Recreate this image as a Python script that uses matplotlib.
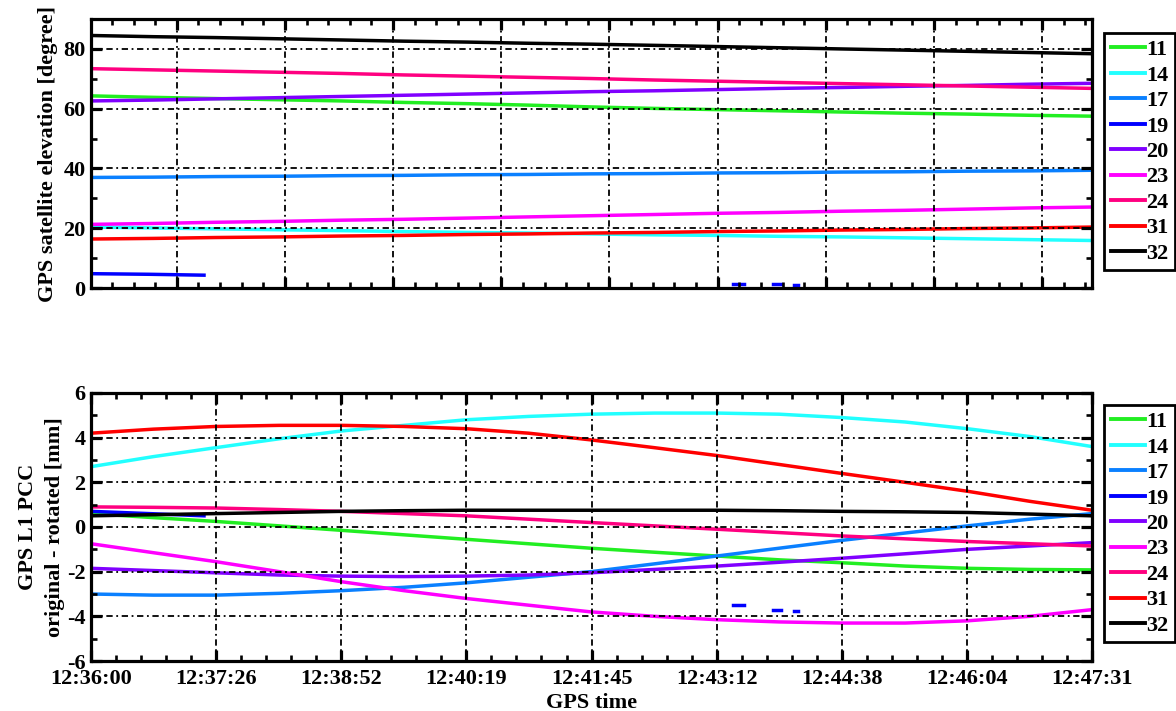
import numpy as np
import matplotlib
matplotlib.use("Agg")
import matplotlib.pyplot as plt
from matplotlib.ticker import FixedLocator, MultipleLocator

plt.rcParams['font.family'] = ['Liberation Serif', 'DejaVu Serif']
plt.rcParams['font.weight'] = 'bold'
plt.rcParams['axes.unicode_minus'] = False

# ---------------- data ----------------
sat_ids = ["11", "14", "17", "19", "20", "23", "24", "31", "32"]
sat_colors = ["#22ee22", "#22ffff", "#0a80ff", "#0000ff", "#8000ff",
              "#ff00ff", "#ff0080", "#ff0000", "#000000"]

# time in seconds after 12:36:00
t_full = [0, 43, 86, 130, 173, 216, 259, 302, 345, 389, 432, 475, 518, 562, 605, 648, 691]

elev_11 = [64.3, 63.8, 63.4, 63.0, 62.6, 62.1, 61.7, 61.2, 60.6, 60.1, 59.7, 59.3, 58.9, 58.5, 58.2, 57.8, 57.5]
elev_14 = [20.4, 20.1, 19.8, 19.5, 19.2, 18.9, 18.6, 18.4, 18.1, 17.8, 17.6, 17.3, 17.1, 16.8, 16.5, 16.2, 15.9]
elev_17 = [37.0, 37.1, 37.3, 37.4, 37.6, 37.7, 37.9, 38.0, 38.2, 38.3, 38.5, 38.6, 38.8, 38.9, 39.1, 39.2, 39.4]
elev_19_t = [0, 40, 78]
elev_19 = [4.8, 4.6, 4.3]
elev_20 = [62.6, 62.9, 63.3, 63.7, 64.1, 64.5, 64.9, 65.3, 65.7, 66.0, 66.4, 66.8, 67.1, 67.5, 67.8, 68.2, 68.5]
elev_23 = [21.3, 21.6, 22.0, 22.3, 22.7, 23.0, 23.4, 23.8, 24.2, 24.6, 25.0, 25.3, 25.7, 26.0, 26.4, 26.8, 27.1]
elev_24 = [73.4, 73.0, 72.6, 72.2, 71.8, 71.3, 70.9, 70.5, 70.1, 69.6, 69.2, 68.8, 68.4, 68.0, 67.6, 67.2, 66.8]
elev_31 = [16.4, 16.6, 16.9, 17.1, 17.4, 17.6, 17.9, 18.1, 18.4, 18.6, 18.9, 19.1, 19.4, 19.6, 19.9, 20.1, 20.4]
elev_32 = [84.5, 84.1, 83.8, 83.4, 83.0, 82.6, 82.3, 81.9, 81.6, 81.2, 80.8, 80.4, 80.0, 79.6, 79.2, 78.8, 78.4]

pcc_11 = [0.6, 0.42, 0.25, 0.05, -0.15, -0.35, -0.55, -0.75, -0.95, -1.13, -1.3, -1.47, -1.6, -1.75, -1.85, -1.9, -1.92]
pcc_14 = [2.7, 3.15, 3.55, 3.95, 4.3, 4.55, 4.8, 4.95, 5.05, 5.1, 5.1, 5.05, 4.9, 4.7, 4.4, 4.05, 3.6]
pcc_17 = [-3.0, -3.05, -3.05, -2.97, -2.85, -2.7, -2.5, -2.25, -2.0, -1.65, -1.3, -0.95, -0.6, -0.27, 0.05, 0.35, 0.6]
pcc_19_t = [0, 40, 78]
pcc_19 = [0.7, 0.6, 0.5]
pcc_20 = [-1.85, -1.95, -2.05, -2.15, -2.2, -2.22, -2.2, -2.15, -2.05, -1.9, -1.75, -1.58, -1.4, -1.2, -1.0, -0.85, -0.7]
pcc_23 = [-0.75, -1.15, -1.55, -2.0, -2.45, -2.85, -3.2, -3.5, -3.8, -4.0, -4.15, -4.25, -4.3, -4.3, -4.2, -4.0, -3.7]
pcc_24 = [0.9, 0.88, 0.85, 0.78, 0.7, 0.6, 0.5, 0.35, 0.2, 0.05, -0.1, -0.25, -0.4, -0.53, -0.65, -0.75, -0.85]
pcc_31 = [4.2, 4.38, 4.5, 4.55, 4.55, 4.5, 4.4, 4.2, 3.9, 3.55, 3.2, 2.8, 2.4, 2.0, 1.6, 1.15, 0.75]
pcc_32 = [0.5, 0.55, 0.6, 0.65, 0.7, 0.73, 0.75, 0.75, 0.75, 0.75, 0.75, 0.73, 0.7, 0.68, 0.65, 0.58, 0.5]

# short isolated fragments of satellite 19 later in the pass
frag19_t = [[443, 451], [471, 476], [485, 488]]
frag19_elev = [[1.4, 1.4], [1.2, 1.2], [1.0, 1.0]]
frag19_pcc = [[-3.5, -3.5], [-3.7, -3.7], [-3.77, -3.77]]

xtick_labels = ["12:36:00", "12:37:26", "12:38:52", "12:40:19", "12:41:45",
                "12:43:12", "12:44:38", "12:46:04", "12:47:31"]
t_end = 691

# ---------------- figure ----------------
fig = plt.figure(figsize=(11.76, 7.11), dpi=100)
ax1 = fig.add_axes([0.0774, 0.5949, 0.8512, 0.3783])
ax2 = fig.add_axes([0.0774, 0.0703, 0.8512, 0.3770])

lw = 2.5
elev_series = [elev_11, elev_14, elev_17, None, elev_20, elev_23, elev_24, elev_31, elev_32]
pcc_series = [pcc_11, pcc_14, pcc_17, None, pcc_20, pcc_23, pcc_24, pcc_31, pcc_32]

for sid, col, ev, pv in zip(sat_ids, sat_colors, elev_series, pcc_series):
    if sid == "19":
        ax1.plot(elev_19_t, elev_19, color=col, lw=lw, label=sid)
        ax2.plot(pcc_19_t, pcc_19, color=col, lw=lw, label=sid)
        for ft, fe, fp in zip(frag19_t, frag19_elev, frag19_pcc):
            ax1.plot(ft, fe, color=col, lw=lw)
            ax2.plot(ft, fp, color=col, lw=lw)
    else:
        ax1.plot(t_full, ev, color=col, lw=lw, label=sid)
        ax2.plot(t_full, pv, color=col, lw=lw, label=sid)

grid_style = dict(color='black', lw=1.3, linestyle=(0, (3.5, 2, 1, 2)))

# top axes
ax1.set_xlim(0, t_end)
ax1.set_ylim(0, 90)
top_major = [59.2 + 74.67 * k for k in range(9)]
ax1.xaxis.set_major_locator(FixedLocator(top_major))
ax1.xaxis.set_minor_locator(FixedLocator([59.2 + 14.934 * k for k in range(-3, 44)]))
ax1.set_xticklabels([])
ax1.yaxis.set_major_locator(FixedLocator([0, 20, 40, 60, 80]))
ax1.yaxis.set_minor_locator(MultipleLocator(10))
ax1.set_ylabel("GPS satellite elevation [degree]", fontsize=16, fontweight='bold', labelpad=4)

# bottom axes
ax2.set_xlim(0, t_end)
ax2.set_ylim(-6, 6)
bot_major = list(np.linspace(0, t_end, 9))
ax2.xaxis.set_major_locator(FixedLocator(bot_major))
ax2.xaxis.set_minor_locator(FixedLocator(list(np.linspace(0, t_end, 41))))
ax2.set_xticklabels(xtick_labels)
ax2.yaxis.set_major_locator(FixedLocator([-6, -4, -2, 0, 2, 4, 6]))
ax2.yaxis.set_minor_locator(MultipleLocator(1))
ax2.set_ylabel("GPS L1 PCC\noriginal - rotated [mm]", fontsize=16, fontweight='bold',
               labelpad=1, linespacing=1.5)
ax2.set_xlabel("GPS time", fontsize=16, fontweight='bold')
ax2.xaxis.set_label_coords(0.5, -0.118)

for ax in (ax1, ax2):
    ax.grid(True, which='major', **grid_style)
    ax.set_axisbelow(False)
    for s in ax.spines.values():
        s.set_linewidth(2.3)
    ax.tick_params(which='major', direction='in', length=8, width=2.3,
                   top=True, right=True, labelsize=16, pad=4)
    ax.tick_params(which='minor', direction='in', length=4, width=1.9,
                   top=True, right=True)
    for lab in ax.get_xticklabels() + ax.get_yticklabels():
        lab.set_fontweight('bold')
ax2.tick_params(axis='x', which='major', pad=6)

# legends
for ax, y0 in ((ax1, 0.9536), (ax2, 0.4304)):
    leg = ax.legend(loc='upper left', bbox_to_anchor=(0.9388, y0),
                    bbox_transform=fig.transFigure, fancybox=False,
                    frameon=True, edgecolor='black', framealpha=1,
                    prop={'family': 'Liberation Serif', 'weight': 'bold', 'size': 16},
                    handlelength=1.55, handletextpad=0.05, labelspacing=0.22,
                    borderpad=0.3, borderaxespad=0)
    leg.get_frame().set_linewidth(2.0)
    for h in leg.get_lines():
        h.set_linewidth(2.8)

fig.savefig("out.png", dpi=100)
